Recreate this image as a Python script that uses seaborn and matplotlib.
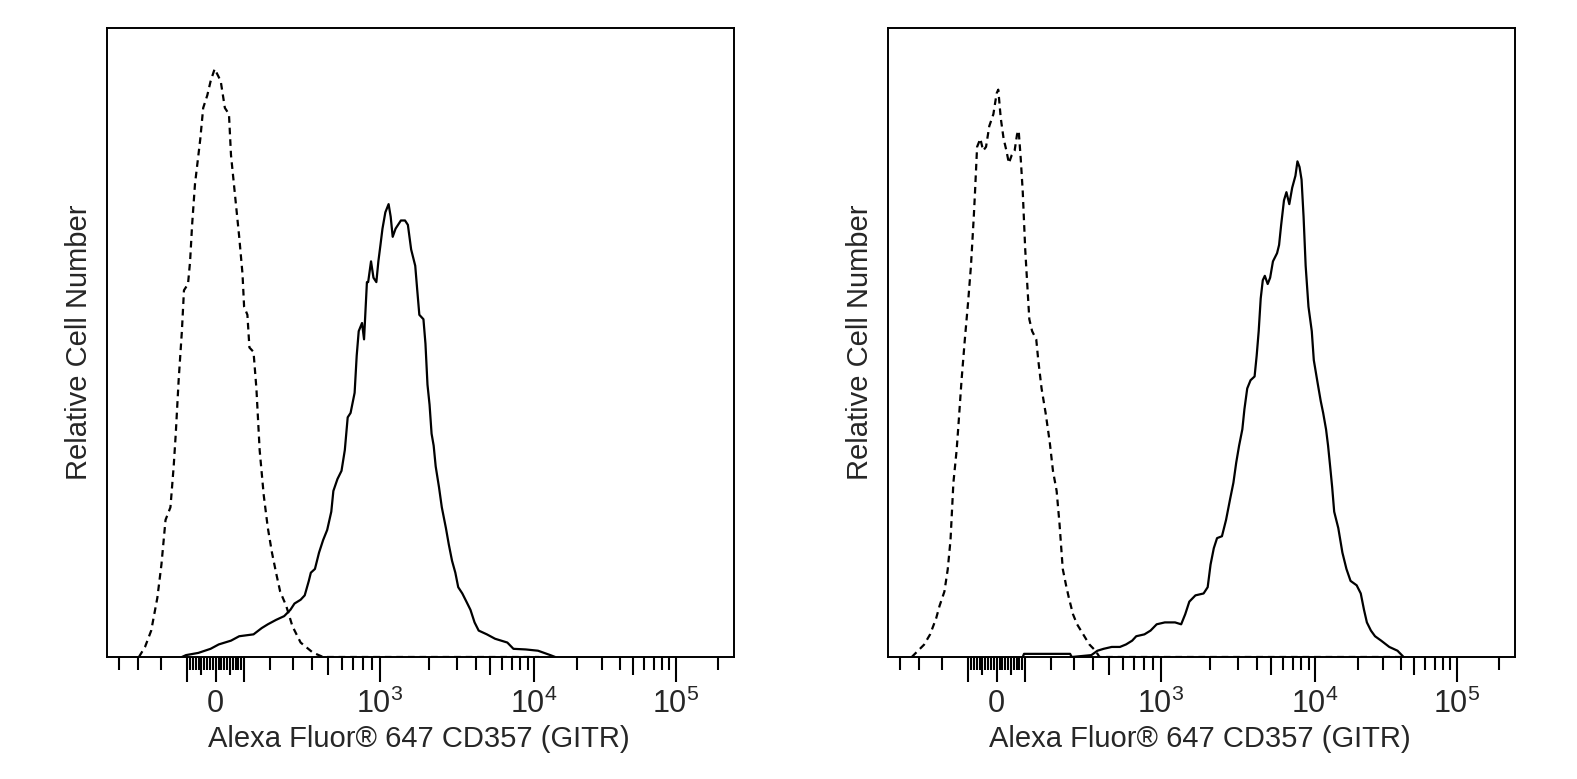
import numpy as np
import pandas as pd
import matplotlib
matplotlib.use("Agg")
import matplotlib.pyplot as plt
import seaborn as sns

# ---------------- data (histogram channel on 0-1024 logicle display, relative count 0-100) ----------------
left_iso_ch = [52.1, 62.1, 72.2, 82.2, 88.9, 95.6, 103.6, 108.9, 112.3, 117.0, 122.3, 125.7, 132.3, 135.7,
               139.0, 143.7, 147.7, 152.4, 157.1, 163.8, 169.1, 175.8, 182.5, 185.8, 192.5, 199.2, 202.5,
               209.2, 215.9, 221.3, 223.9, 229.3, 232.6, 239.3, 244.0, 249.3, 256.0, 262.7, 269.4, 276.1,
               282.8, 292.8, 302.8, 316.2, 336.2, 353.0, 706.0]
left_iso_val = [0, 1.6, 4.2, 9.4, 14.7, 21.8, 23.8, 30.3, 35.5, 44.0, 51.8, 58.3, 59.3, 62.9,
                68.7, 75.2, 78.5, 82.4, 87.3, 89.3, 91.5, 93.5, 92.2, 91.5, 87.3, 86.3, 79.8,
                73.3, 66.8, 60.9, 55.7, 54.4, 49.2, 48.5, 42.7, 32.9, 25.7, 20.5, 16.6, 13.4,
                10.4, 8.1, 4.9, 2.3, 0.7, 0, 0]

left_stain_ch = [122.3, 129.0, 149.1, 169.1, 182.5, 202.5, 215.9, 239.3, 252.7, 262.7, 276.1, 289.4, 299.5,
                 306.2, 316.2, 322.9, 329.6, 332.9, 339.6, 346.3, 353.0, 359.6, 366.3, 369.7, 376.4, 383.0,
                 388.4, 393.1, 397.8, 404.4, 407.8, 411.1, 416.5, 419.8, 424.5, 426.5, 431.2, 435.2, 439.9,
                 443.2, 446.6, 449.9, 454.6, 459.9, 463.3, 466.6, 471.3, 475.3, 480.0, 486.7, 491.4, 496.7,
                 503.4, 506.7, 510.1, 516.8, 520.1, 523.4, 526.8, 530.1, 533.5, 536.8, 542.2, 546.8, 553.5,
                 558.2, 563.5, 568.9, 573.6, 580.3, 587.0, 593.6, 600.3, 607.0, 620.4, 633.8, 653.8, 663.8,
                 683.9, 703.9, 714.0, 724.0, 732.0]
left_stain_val = [0, 0.3, 0.65, 1.3, 2.0, 2.6, 3.3, 3.6, 4.6, 5.2, 5.9, 6.5, 7.5,
                  8.5, 9.1, 9.8, 12.1, 13.4, 14.0, 16.6, 18.6, 20.2, 23.1, 26.4, 28.3, 29.6,
                  32.9, 38.1, 38.8, 42.0, 47.9, 51.8, 53.1, 50.5, 59.6, 59.6, 62.9, 60.3, 59.6,
                  62.9, 65.5, 68.1, 70.7, 72.0, 70.0, 66.8, 68.1, 68.7, 69.4, 69.4, 68.7, 64.8,
                  62.2, 58.3, 54.4, 53.7, 49.8, 43.3, 40.1, 35.5, 33.6, 30.3, 27.0, 23.8, 20.5,
                  17.9, 15.3, 13.4, 11.1, 10.1, 8.8, 7.5, 5.5, 4.2, 3.6, 2.9, 2.3, 1.3,
                  1.2, 1.0, 0.65, 0.3, 0]

right_iso_ch = [38.8, 58.8, 68.8, 78.8, 84.1, 92.1, 97.5, 102.1, 106.8, 112.1, 115.5, 120.1, 125.5, 130.8,
                135.5, 140.1, 142.1, 145.5, 150.8, 155.4, 160.1, 165.4, 172.1, 177.4, 180.1, 184.1, 188.8,
                193.4, 197.4, 202.1, 206.8, 210.8, 213.4, 216.8, 220.1, 224.1, 226.8, 230.8, 235.4, 242.1,
                245.4, 250.8, 257.4, 264.1, 269.4, 275.4, 280.1, 285.4, 290.8, 295.4, 302.1, 308.8, 318.8,
                328.8, 338.8, 345.4, 845.0]
right_iso_val = [0, 1.95, 3.6, 6.2, 8.1, 10.4, 13.9, 18.6, 27.7, 32.9, 37.5, 44.0, 50.5, 56.4,
                 62.2, 70.0, 73.9, 81.1, 82.4, 80.5, 81.1, 84.4, 86.3, 89.6, 90.2, 85.7, 82.4,
                 80.5, 78.5, 79.8, 80.5, 83.1, 83.7, 79.2, 73.9, 64.8, 60.3, 53.7, 51.8, 50.5,
                 47.2, 42.7, 38.8, 34.2, 29.6, 26.4, 21.2, 14.0, 11.4, 9.4, 6.8, 5.2, 3.6,
                 2.0, 1.0, 0, 0]

right_stain_ch = [220.1, 222.1, 297.4, 300.1, 332.1, 342.1, 352.1, 365.4, 378.8, 388.8, 398.8, 405.4, 418.8,
                  428.8, 438.8, 452.1, 468.8, 478.8, 485.4, 492.1, 502.1, 515.4, 522.1, 526.8, 532.1, 537.4,
                  545.4, 552.1, 558.7, 564.1, 568.7, 573.4, 578.7, 582.1, 586.7, 592.1, 598.7, 602.1, 605.4,
                  608.7, 612.1, 615.4, 620.1, 624.1, 628.7, 635.4, 638.7, 642.1, 646.7, 650.7, 655.4, 660.1,
                  665.4, 668.7, 672.1, 675.4, 678.7, 682.1, 686.7, 692.1, 695.4, 702.1, 706.7, 710.7, 715.4,
                  718.7, 722.1, 725.4, 728.7, 735.4, 742.1, 748.7, 755.4, 765.4, 772.1, 777.4, 782.1, 788.7,
                  795.4, 805.4, 818.7, 832.1, 842.1]
right_stain_val = [0, 0.5, 0.5, 0, 0.3, 1.0, 1.3, 1.6, 1.6, 2.0, 2.6, 3.3, 3.6,
                   4.2, 5.2, 5.5, 5.5, 5.2, 6.8, 8.8, 9.8, 10.1, 11.1, 14.7, 17.3, 18.9,
                   19.2, 21.8, 25.1, 27.7, 30.9, 33.6, 36.2, 39.4, 42.7, 44.0, 44.6, 47.9, 51.8,
                   57.0, 59.9, 60.6, 59.3, 60.3, 62.9, 64.2, 65.5, 68.7, 72.6, 73.9, 72.0, 74.6,
                   76.5, 78.8, 77.9, 75.9, 70.0, 62.2, 55.7, 51.8, 47.2, 43.3, 40.7, 38.8, 36.2,
                   33.6, 30.3, 27.0, 23.1, 20.5, 16.6, 14.0, 12.1, 11.4, 10.1, 7.5, 5.5, 4.2,
                   3.3, 2.6, 1.6, 1.0, 0]

major_vals = [0, 1e3, 1e4, 1e5]
major_labels = ["0", "$10^3$", "$10^4$", "$10^5$"]
long_unlabeled_vals = [-100, 100]
medium_vals = [-50, 50, 500, 5000, 50000]
minor_vals = ([-400, -300, -200] + [v for v in range(-90, 0, 10) if v != -50]
              + [v for v in range(10, 100, 10) if v != 50]
              + [200, 300, 400, 600, 700, 800, 900]
              + [2000, 3000, 4000, 6000, 7000, 8000, 9000]
              + [20000, 30000, 40000, 60000, 70000, 80000, 90000, 200000])

x_label = "Alexa Fluor® 647 CD357 (GITR)"
y_label = "Relative Cell Number"

# ---------------- logicle transform (T=262144, W=0.78, M=4.5) ----------------
T, W, M = 262144.0, 0.78, 4.5
w = W / M
b = M * np.log(10)
lo, hi = 1e-6, b
for _ in range(200):
    mid = 0.5 * (lo + hi)
    fv = 2 * (np.log(mid) - np.log(b)) + w * (b + mid)
    if fv > 0:
        hi = mid
    else:
        lo = mid
d = 0.5 * (lo + hi)
x1, x0 = w, 2 * w
ca = np.exp(x0 * (b + d))
mfa = np.exp(b * x1) - ca / np.exp(d * x1)
a = T / ((np.exp(b) - mfa) - ca / np.exp(d))
c = ca * a
f = -mfa * a


def S(y):
    y = np.asarray(y, dtype=float)
    yy = np.where(y >= x1, y, 2 * x1 - y)
    v = a * np.exp(b * yy) - c * np.exp(-d * yy) + f
    return np.where(y >= x1, v, -v)


grid_y = np.linspace(-0.05, 1.05, 20001)
grid_x = S(grid_y)


def channel(vals):
    return np.interp(np.asarray(vals, dtype=float), grid_x, grid_y) * 1024.0


# ---------------- plot ----------------
sns.set_style("white")
plt.rcParams['font.family'] = ['Liberation Sans', 'DejaVu Sans']
plt.rcParams['mathtext.fontset'] = 'custom'
plt.rcParams['mathtext.rm'] = 'Liberation Sans'
plt.rcParams['mathtext.it'] = 'Liberation Sans'

fig = plt.figure(figsize=(15.77, 7.79), dpi=100)
FS = 21
TFS = 22

panels = [
    (107 / 1577, left_iso_ch, left_iso_val, left_stain_ch, left_stain_val),
    (888 / 1577, right_iso_ch, right_iso_val, right_stain_ch, right_stain_val),
]

for x0f, ich, ival, sch, sval in panels:
    ax = fig.add_axes([x0f, 122 / 779, 627 / 1577, 629 / 779])
    iso = pd.DataFrame({"channel": ich, "count": ival})
    stn = pd.DataFrame({"channel": sch, "count": sval})
    sns.lineplot(data=iso, x="channel", y="count", ax=ax, color="black", lw=1.6,
                 linestyle=(0, (3.0, 2.2)), estimator=None, sort=False)
    sns.lineplot(data=stn, x="channel", y="count", ax=ax, color="black", lw=1.6,
                 estimator=None, sort=False)
    ax.set_xlim(0, 1024)
    ax.set_ylim(0, 100)
    for sp in ax.spines.values():
        sp.set_visible(True)
        sp.set_color("black")
        sp.set_linewidth(1.4)
    ax.set_yticks([])
    maj_pos = list(channel(major_vals)) + list(channel(long_unlabeled_vals))
    maj_lab = major_labels + [""] * len(long_unlabeled_vals)
    ax.set_xticks(maj_pos)
    ax.set_xticklabels(maj_lab, fontsize=TFS)
    ax.set_xticks(channel(minor_vals), minor=True)
    ax.tick_params(axis="x", which="major", direction="out", length=18, width=1.5,
                   color="black", pad=5, bottom=True)
    ax.tick_params(axis="x", which="minor", direction="out", length=9, width=1.5,
                   color="black", bottom=True)
    sec = ax.secondary_xaxis("bottom")
    sec.set_xticks(channel(medium_vals))
    sec.set_xticklabels([""] * len(medium_vals))
    sec.tick_params(axis="x", direction="out", length=13, width=1.5, color="black")
    sec.spines["bottom"].set_visible(False)

    ax.set_xlabel(x_label, fontsize=FS)
    ax.xaxis.set_label_coords(0.497, -0.13)
    ax.xaxis.label.set_verticalalignment("center")
    ax.set_ylabel(y_label, fontsize=FS)
    ax.yaxis.set_label_coords(-0.044, 0.5)
    ax.yaxis.label.set_verticalalignment("center")

fig.savefig("out.png", dpi=100)
